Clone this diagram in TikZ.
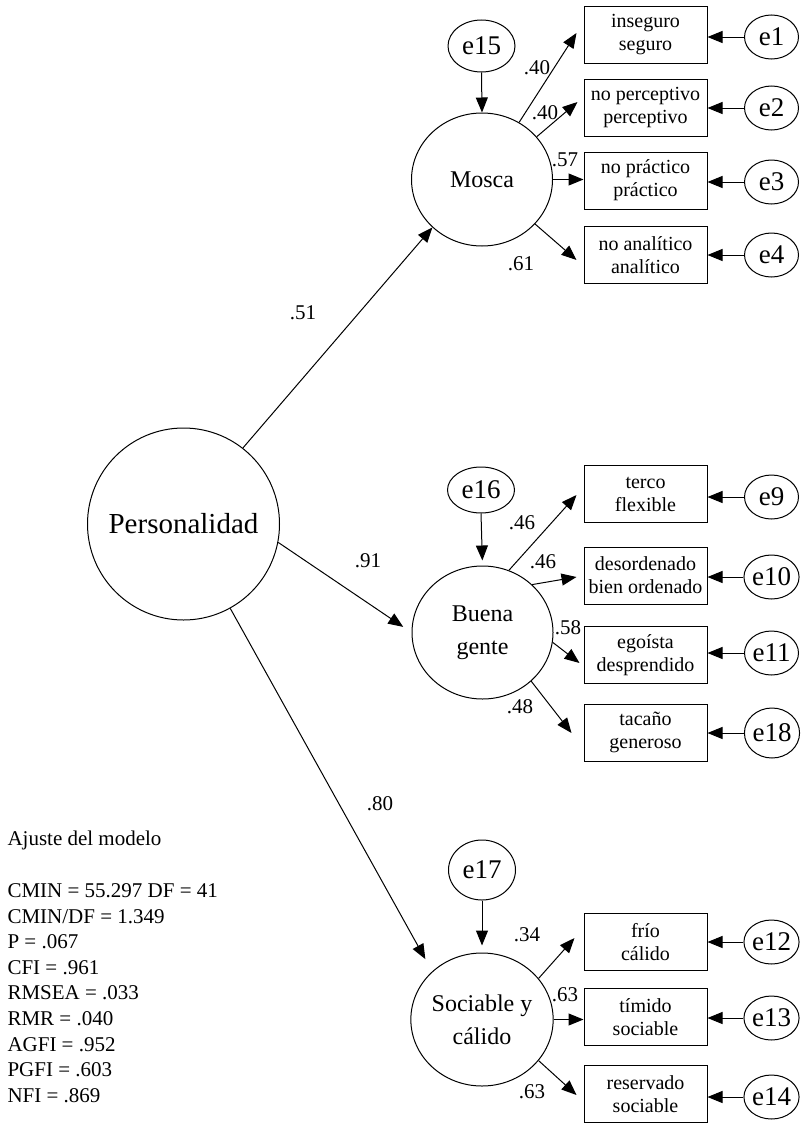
\documentclass[tikz,border=0pt]{standalone}
\usepackage{fontspec}
\setmainfont{Liberation Serif}
\usetikzlibrary{shapes.geometric,arrows.meta,calc}
\begin{document}
\begin{tikzpicture}[x=0.5pt,y=-0.5pt, line width=0.5pt,
 arr/.style={-{Triangle[length=7.5pt,width=6pt]}},
 lat/.style={draw, ellipse, minimum width=70.5pt, minimum height=66.5pt, inner sep=0pt, align=center, font=\fontsize{12}{16.5}\selectfont},
 obs/.style={draw, rectangle, minimum width=61.5pt, minimum height=28.5pt, inner sep=0pt, align=center, font=\fontsize{10}{11.5}\selectfont},
 err/.style={draw, ellipse, minimum width=27pt, minimum height=22pt, inner sep=0pt, font=\fontsize{13.5}{14}\selectfont},
 dist/.style={draw, ellipse, minimum width=33.5pt, inner sep=0pt, font=\fontsize{13.5}{14}\selectfont},
 lbl/.style={font=\fontsize{10.5}{12}\selectfont, inner sep=0pt}]
\useasboundingbox (0,0) rectangle (802,1124);

% latent variables
\node[draw, circle, minimum size=96pt, inner sep=0pt, font=\fontsize{14.5}{16}\selectfont] (pers) at (183.5,524) {Personalidad};
\node[lat] (mosca) at (482,179.5) {Mosca};
\node[lat] (bg) at (482.5,632.5) {Buena\\gente};
\node[lat] (soc) at (482,1019.5) {Sociable y\\cálido};

% disturbances
\node[dist, minimum height=26pt] (e15) at (481.5,46) {e15};
\node[dist, minimum height=23pt] (e16) at (481,490) {e16};
\node[dist, minimum height=30pt] (e17) at (482,870) {e17};

% observed
\node[obs] (b1) at (645.5,35) {inseguro\\seguro};
\node[obs] (b2) at (645.5,107.5) {no perceptivo\\perceptivo};
\node[obs] (b3) at (645.5,180.5) {no práctico\\práctico};
\node[obs] (b4) at (645.5,255) {no analítico\\analítico};
\node[obs] (t1) at (645.5,494) {terco\\flexible};
\node[obs] (t2) at (645.5,575.5) {desordenado\\bien ordenado};
\node[obs] (t3) at (645.5,655) {egoísta\\desprendido};
\node[obs] (t4) at (645.5,732.5) {tacaño\\generoso};
\node[obs] (f1) at (645.5,942) {frío\\cálido};
\node[obs] (f2) at (645.5,1017) {tímido\\sociable};
\node[obs] (f3) at (645.5,1094) {reservado\\sociable};

% errors
\node[err] (e1) at (771.5,37) {e1};
\node[err] (e2) at (771.5,108) {e2};
\node[err] (e3) at (771.5,182) {e3};
\node[err] (e4) at (771.5,255) {e4};
\node[err] (e9) at (771.5,497) {e9};
\node[err] (e10) at (771.5,577) {e10};
\node[err] (e11) at (771.5,653) {e11};
\node[err, minimum height=25pt] (e18) at (772,733) {e18};
\node[err] (e12) at (771.5,942) {e12};
\node[err] (e13) at (771.5,1018) {e13};
\node[err] (e14) at (771.5,1097) {e14};

% structural paths
\draw[arr] (pers.52) -- (mosca.224);
\draw[arr, shorten >=5pt] (pers.-11) -- (bg.west);
\draw[arr, shorten >=7pt] (pers.-61) -- (soc.136);

% disturbance paths
\draw[arr] (e15.south) -- (mosca.north);
\draw[arr, shorten >=2.5pt] (e16.south) -- (bg.north);
\draw[arr, shorten >=3.5pt] (e17.south) -- (soc.north);

% loadings
\draw[arr] (mosca.57) -- ($(b1.west)+(-7,-2)$);
\draw[arr] (mosca.38) -- ($(b2.west)+(-6,-5.5)$);
\draw[arr] (mosca.east) -- (mosca.east -| b3.west);
\draw[arr] (mosca.-40) -- ($(b4.west)+(-7,5)$);
\draw[arr] (bg.67) -- ($(t1.west)+(-7,1)$);
\draw[arr] (bg.44) -- ($(t2.west)+(-7,1.5)$);
\draw[arr] (bg.-8) -- ($(t3.west)+(-4,8)$);
\draw[arr] (bg.-45) -- ($(t4.west)+(-12,0.5)$);
\draw[arr] (soc.36) -- ($(f1.west)+(-9,-4)$);
\draw[arr] (soc.east) -- (soc.east -| f2.west);
\draw[arr] (soc.-36) -- ($(f3.west)+(-7,1)$);

% error paths
\foreach \e/\b in {e1/b1,e2/b2,e3/b3,e4/b4,e9/t1,e10/t2,e11/t3,e18/t4,e12/f1,e13/f2,e14/f3}
  \draw[arr] (\e.west) -- (\e.west -| \b.east);

% coefficients
\node[lbl] (c51) at (303,313) {.51};
\node[lbl] (c91) at (368,561) {.91};
\node[lbl] (c80) at (380,804) {.80};
\node[lbl] (cm1) at (537,68) {.40};
\node[lbl] (cm2) at (545,113) {.40};
\node[lbl] (cm3) at (565,160) {.57};
\node[lbl] (cm4) at (521,264) {.61};
\node[lbl] (cb1) at (522,523) {.46};
\node[lbl] (cb2) at (543,562) {.46};
\node[lbl] (cb3) at (568,628) {.58};
\node[lbl] (cb4) at (520,707) {.48};
\node[lbl] (cs1) at (527,935) {.34};
\node[lbl] (cs2) at (565,995) {.63};
\node[lbl] (cs3) at (532,1092) {.63};

% fit indices
\node[anchor=base west, inner sep=0pt, font=\fontsize{10.5}{12}\selectfont] (ajuste) at (7,845) {Ajuste del modelo};
\node[anchor=north west, inner sep=0pt, align=left, font=\fontsize{10.5}{12.8}\selectfont] (fit) at (7,883) {CMIN = 55.297 DF = 41\\CMIN/DF = 1.349\\P = .067\\CFI = .961\\RMSEA = .033\\RMR = .040\\AGFI = .952\\PGFI = .603\\NFI = .869};
\end{tikzpicture}
\end{document}
